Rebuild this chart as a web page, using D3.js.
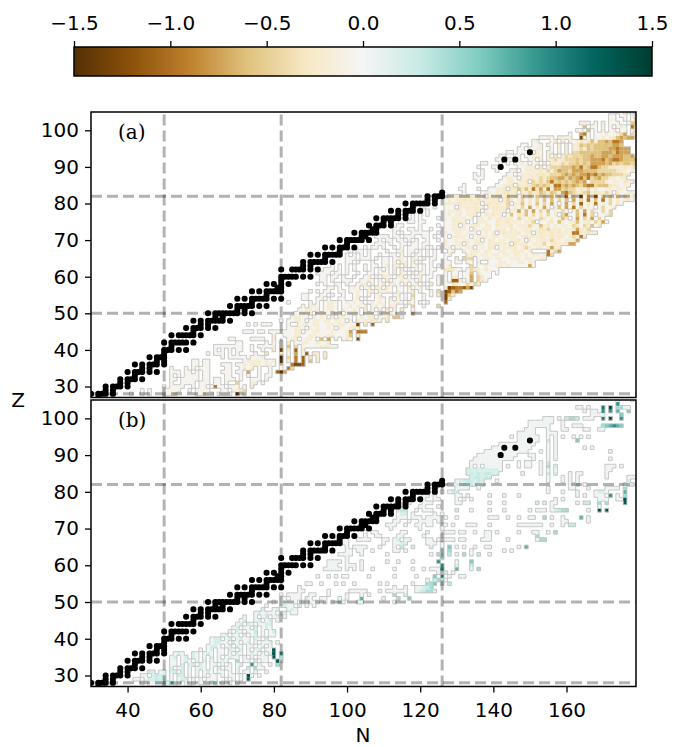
<!DOCTYPE html>
<html><head><meta charset="utf-8">
<script src="https://cdn.jsdelivr.net/npm/d3@7"></script>
<style>html,body{margin:0;padding:0;background:#fff}svg{display:block}text{font-family:"DejaVu Sans";fill:#000}</style>
</head><body><svg id="c" width="684" height="747"></svg>
<script>
// magnitude for each level character
const levelValues = [0.04, 0.2, 0.3, 0.44, 0.6, 0.75, 0.95, 1.1, 1.3, 1.45];
const magicN = [50, 82, 126];
const magicZ = [28, 50, 82];
const xTicks = [40, 60, 80, 100, 120, 140, 160];
const yTicks = [30, 40, 50, 60, 70, 80, 90, 100];
const barTicks = [-1.5, -1, -0.5, 0, 0.5, 1, 1.5];
// stable nuclei: [Z, N...]
const stable = [[27,32],[28,30,32,33,34,36],[29,34,36],[30,34,36,37,38,40],[31,38,40],[32,38,40,41,42,44],[33,42],[34,40,42,43,44,46,48],[35,44,46],[36,42,44,46,47,48,50],[37,48,50],[38,46,48,49,50],[39,50],[40,50,51,52,54,56],[41,52],[42,50,52,53,54,55,56,58],[44,52,54,55,56,57,58,60],[45,58],[46,56,58,59,60,62,64],[47,60,62],[48,58,60,62,63,64,65,66,68],[49,64,66],[50,62,64,65,66,67,68,69,70,72,74],[51,70,72],[52,68,70,71,72,73,74,76,78],[53,74],[54,70,72,74,75,76,77,78,80,82],[55,78],[56,74,76,78,79,80,81,82],[57,81,82],[58,78,80,82,84],[59,82],[60,82,83,84,85,86,88,90],[62,82,85,86,87,88,90,92],[63,88,90],[64,88,90,91,92,93,94,96],[65,94],[66,90,92,94,95,96,97,98],[67,98],[68,94,96,98,99,100,102],[69,100],[70,98,100,101,102,103,104,106],[71,104,105],[72,102,104,105,106,107,108],[73,107,108],[74,106,108,109,110,112],[75,110,112],[76,108,110,111,112,113,114,116],[77,114,116],[78,112,114,116,117,118,120],[79,118],[80,116,118,119,120,121,122,124],[81,122,124],[82,122,124,125,126],[83,126],[90,142],[92,143,146],[94,150]];

// Panel (a): [Z, N start, level string, N start, level string, ...]; "." = no cell. Values are negative.
const cellsA = [
[28,41,"0..0.0",50,"0003",59,"00300",65,"0000",70,"9",72,"0"],
[29,44,"0.0",50,"00000",57,"0.0000",66,"00.0",70,"123"],
[30,50,"0.0",53,"000",58,"0.00.0",64,"600.000.0",74,"1"],
[31,52,"0",55,"000",58,"0.000",64,"00",67,"0",70,"3",74,"11",77,"0"],
[32,52,"00.0",56,"00",58,"00.00",64,"00",67,"000.0",74,"000",78,"0"],
[33,52,"0",54,"0",56,"000",59,"0.00",67,"00",71,"0",73,"0",76,"0",78,"00"],
[34,52,"00",54,"0",56,"00",59,"0.00",66,"000",70,"00",73,"5",76,"0",79,"0",81,"785"],
[35,52,"0",56,"0",58,"0",60,"000",67,"00",71,"0101",76,"0",79,"0",82,"0.63"],
[36,58,"00",61,"00",66,"000.00",72,"101110110",82,"0",85,"6887"],
[37,58,"00.00",72,"011110101",82,"8",84,"1",86,"6.7.4.1"],
[38,66,"0",68,"00000",74,"00",76,"01",82,"9",84,"3",86,"6.7.2.1.2"],
[39,62,"0",64,"00",66,"0",68,"0",70,"0",75,"0",78,"2",82,"2",84,"0",86,"5.07.11.1"],
[40,64,"0",66,"0",68,"0",70,"00",74,"0",77,"0",80,"1",82,"8",84,"1",86,"7",88,"1"],
[41,64,"00000000",74,"0",76,"0000",80,"1",82,"1",84,"4",86,"3",88,"0000011100"],
[42,70,"00",78,"0",80,"0",82,"0",84,"2.0",87,"011001002"],
[43,68,"00",74,"0000",80,"1",84,"011",88,"0110",93,"4",95,"5",97,"1",99,"02",101,"0",103,"8"],
[44,80,"1",83,"00",85,"01100110001100",99,"01",101,"4",103,"2"],
[45,72,"000",76,"00",79,"000",82,"00",84,"0011.00110001000",100,"15",103,"666"],
[46,84,"00110.1010010.10",100,"012",103,"1"],
[47,73,"0",75,"0",77,"000",84,"0",87,"0110110011011000",103,"8",105,"2",107,"7"],
[48,82,"0",84,"00110.0110110110.1",103,"10",105,"112",108,"11",111,"2"],
[49,85,"01100.1010.1.1100.010",106,"11",109,"012",113,"44",115,"1"],
[50,86,"00101.0110.10.0110.0110.0110",118,"5"],
[51,87,"001101.0110.10010.1.0.1.1.1.1",118,"0"],
[52,88,"0.110.0110.0010101.0101.11",116,"1",118,"3",121,"0",125,"3"],
[53,84,"0",90,"0.0",94,"0110",99,"0101",103,"01",106,"01",108,"010",112,"0110.1",118,"0",120,"0",122,"0",127,"7"],
[54,88,"00",92,"00",95,"0",98,"00",102,"01",105,"0",108,"010",112,"1.0",116,"0",118,"1",121,"0",127,"82"],
[55,88,"00",93,"00",96,"0",99,"0",102,"010",106,"0",108,"01",113,"01",116,"0",118,"3",121,"0.0",125,"1",127,"842"],
[56,90,"0",92,"0",94,"00",98,"00",101,"0010",106,"11.1",110,"010",114,"10.0",118,"2",120,"0",123,"0",125,"3",127,"87465"],
[57,95,"00",98,"0",101,"010",105,"01.1",109,"1.10.0",115,"0.1",119,"01",122,"0",127,"28766758"],
[58,92,"0",94,"0",97,"00",100,"0",103,"011",107,"1.01.1",113,"10.1",118,"01",121,"0.1",125,"1",127,"0021003032"],
[59,93,"00",96,"0",99,"00",101,"0",104,"0010",109,"0.1.00",115,"1010",120,"1",122,"0",125,"0",127,"0.771.05.320"],
[60,93,"00",96,"00",99,"0",102,"0",105,"01.0",110,"110",114,"11.0",119,"01",122,"00",125,"1",127,"0.11.005.3200"],
[61,92,"0000",97,"00",100,"0",103,"0",106,"00",109,"010",113,"1.10",118,"1.1",121,"0",123,"0",127,"0.00.004.2000.0"],
[62,94,"000",98,"0.0",102,"0",105,"0",107,"0.0",111,"0.1.1.0",119,"0",121,"0",123,"00",127,"22200.031102000"],
[63,96,"0.0.0",102,"0",105,"0",107,"00",110,"01.11",116,"1.01",121,"0",123,"0",125,"0",127,"02.....3.0010011010000050"],
[64,100,"00",103,"0",107,"0",110,"00.0",115,"11.1.0",123,"0",127,"00.00.00.1..0001100011011"],
[65,100,"000",104,"000",108,"0",110,"00",113,"0110",118,"10.1",123,"00",127,"0..2.333.0011011001110110011"],
[66,100,"0",102,"0",104,"0",106,"0",109,"0",112,"00",115,"0.0.1",120,"0.0",124,"0",127,"01....1110110110110110101101",155,"63"],
[67,101,"0",103,"00",106,"0",111,"0",114,"01",117,"00",120,"0",122,"0",124,"0",127,".01..1011101100110111101",155,"6135"],
[68,105,"0.00",110,"0",113,"0.0",117,"000",121,"0.0",125,"0",127,"01.01011.01021.01112013101102512"],
[69,108,"000",112,"0",115,"00",118,"00",121,"00",127,"10011.101110112111.21120111301211155"],
[70,109,"0.0",112,"0",114,"00",117,"0",119,"0",122,"0",125,"0",127,"1001011011.02101101120.10112131101115"],
[71,108,"0000",113,"00",116,"000",121,"00",124,"0",127,"0.11110.0111011011110121112112121013162"],
[72,113,"0",115,"0",118,"0000",122,"0",125,"0",127,"100110101.0101.121112011.12112121116611211"],
[73,113,"00",117,"00",120,"0",123,"0",127,"0011110.10111011102101110121311201115213"],
[74,114,"00",120,"0",125,"0",127,"0011.10111011021112011131041201011032031402"],
[75,117,"00",120,"00",127,"001111.0.1110021121110113.0012041011401203150"],
[76,118,"0.0",125,"0",127,"10111101.1102012111031021032010142.050315030"],
[77,118,"0",120,"0",122,"0",127,"010110111.021211.04021403020301.350040603.0013"],
[78,120,"0.0",127,"0111101121.101111.1150405030401030.04050300303"],
[79,121,"0",124,"0",127,"000.1111211.12211301030502050.14050603010.03001"],
[80,124,"0",127,"1111211121.1212113.114020403050.05030702060103020"],
[81,127,"010112121211121.131013020304040304.50306040603010120"],
[82,128,"1122222121.1122131204030403050307030804070403050301"],
[83,132,"0",137,"0110112212.2132243243156432234122131.100110"],
[84,131,"00",136,"0",139,"00112.22424262526155343312130200110110"],
[85,132,"0",141,"00112.2122343432664545435663444211010"],
[86,136,"0",142,"00110112.3232463434345450333310110211"],
[87,135,"000",143,"0110.11121323445535456463453311011"],
[88,135,"0.0",144,"00.0111122223334545455656454433322"],
[89,137,"0",141,"0",145,"01.01111213135443555444433333211011"],
[90,136,"0",140,"00",147,"00111.2.133344454634664332211211"],
[91,137,"00",142,"0.0",146,"0010",151,"01.1.111323343435555453434434"],
[92,141,"00",144,"0000",150,"01.1.1131233343445556456654445"],
[93,142,"00",146,"00",149,"0011",153,"1.1.2.13233344544554555445"],
[94,144,"00",147,"0001",152,"10.1",156,"1.1.1.3344444455546555"],
[95,147,"00",150,"0011",156,"0.1.1.1131434444556555"],
[96,148,"00",151,"001",155,"10.1.1.11434344444554"],
[97,151,"01",156,"01.1.101212414454665"],
[98,153,"0010",158,"1101",164,"8.0.7",168,"00101245455"],
[99,161,"0",164,"560.0",169,"00100135.315"],
[100,163,"00.4",168,"0.1.01.00.1.0"],
[101,165,"4.00",170,"0.0",174,"010.0",178,"6"],
[102,164,"010.0.1.0",173,"00",177,"044"],
[103,172,"00",176,"0.04"],
[104,172,"00.00.0.3"],
[105,174,"00.0.1"]
];

// Panel (b): same layout; values are positive.
const cellsB = [
[27,46,"0011",51,"0.0",56,"00"],
[28,44,"0.00112",51,"15",54,"0.0.0",60,"000",64,"5",66,"0.0",70,"0"],
[29,42,"00",45,"011212",52,"0",54,"011",58,"0.0",62,"000",67,"0.0",71,"0",73,"8"],
[30,44,"00",47,"1212",52,"0.11",57,"0.0.0",63,"00.0",68,"00",71,"0.8",74,"0",76,"0"],
[31,46,"11",49,"01",52,"11",55,"1.0",59,"0.010",65,"00.0",70,"0.0",73,"0",75,"0",78,"0"],
[32,52,"1.01",57,"0.010",63,"0.1",67,"00",70,"0",73,"2.3",76,"00"],
[33,52,"00.1",57,"11.10",63,"00",66,"0.0",70,"01",74,"6",76,"0",79,"0",81,"3"],
[34,52,"00",55,"010",59,"0.1",63,"0.0",66,"10",70,"3",72,"00.1",77,"00",81,"80"],
[35,52,"01",55,"01.10",61,"0.1",65,"0.01",69,"00",72,"0",74,"0.00",78,"0",80,"8",82,"3"],
[36,53,"010",58,"10",61,"010.00",68,"0.10.01",75,"0.0.1",80,"8",82,"6"],
[37,60,"0.01",65,"00.1",69,"0.1",73,"0.01",78,"00",80,"8"],
[38,62,"0110.01",70,"10.0",74,"0",76,"01",79,"0"],
[39,63,"01100.10",72,"01",75,"0.0",78,"01.0"],
[40,63,"011.01",70,"01",72,"00.10",78,"1"],
[41,66,"01.0",70,"0.1",74,"01",77,"0.00"],
[42,68,"0.10.01",74,"02",77,"0",79,"01"],
[43,69,"01.00",73,"0.1",77,"010"],
[44,70,"01.10",76,"0011"],
[45,71,"01",75,"01.01",81,"0"],
[46,72,"0",75,"0",77,"02",80,"01",83,"0"],
[47,75,"01",77,"0100",82,"01",85,"00"],
[48,77,"1",80,"01",84,"01",86,"0"],
[49,78,"0",82,"01",84,"00",87,"1",89,"0.0"],
[50,80,"0",82,"00",84,"000",88,"0",90,"000",94,"0.0",98,"3",99,"0",103,"00",113,"0"],
[51,82,"00.00",87,"0.1",90,"0",93,"00",98,"0",100,"0",104,"5",110,"0",114,"3",117,"4"],
[52,82,"0",84,"00",86,"00",90,"00",95,"0",100,"0",104,"0",106,"0",113,"3",116,"1"],
[53,87,"00",95,"0",101,"00000",109,"0",111,"000000",119,"012331"],
[54,87,"0",113,"0",116,"0",119,"001",122,"23"],
[55,89,"00",93,"0",97,"0",99,"0",102,"0",109,"0",111,"0",118,"0",122,"334",126,"3",128,"2"],
[56,122,"0",124,"23",127,"0"],
[57,92,"0",95,"0",97,"0",99,"00",106,"0",113,"0",119,"0",124,"4",126,"7",128,"0",131,"00"],
[58,125,"0",127,"1",129,"0"],
[59,94,"00000",100,"0",102,"0",104,"0",107,"0",113,"0",118,"0",121,"0",123,"000",126,"6",130,"5",134,"0",136,"3"],
[60,95,"000",100,"000",104,"0",126,"5",130,"1",134,"2"],
[61,95,"0000",100,"0",104,"0",111,"0",114,"0",118,"0",125,"6",130,"0",134,"4"],
[62,100,"0",126,"2"],
[63,98,"00",100,"00",104,"0",111,"0",123,"0.3",126,"3",128,"2",130,"0",132,"3",134,"0",136,"2",139,"0"],
[64,100,"00",103,"00",107,"0",113,"00",116,"0",126,"2",128,"3",134,"0",143,"0",145,"0"],
[65,100,"0",102,"000",105,"0",109,"0",113,"0",115,"2",118,"1",123,"1",126,"0",128,"4",130,"0",132,"0",135,"0",138,"00",147,"0",149,"5"],
[66,97,"0",99,"00",110,"0",113,"001",116,"1",122,"000",126,"0"],
[67,97,"0",99,"00",103,"0000",110,"00",113,"01",116,"00",122,"00",125,"0",127,"000",131,"00",137,"000",144,"0",152,"033"],
[68,105,"0",108,"00",114,"00",121,"0",126,"0",138,"00",152,"3"],
[69,105,"0",107,"00",115,"00",122,"0",127,"000",131,"00",135,"0",138,"00",141,"0",147,"0",151,"00",155,"0",157,"3"],
[70,104,"0",106,"0",112,"0",120,"0",126,"0"],
[71,111,"000",116,"0",119,"00",122,"00",126,"00",129,"0",133,"000",139,"0",147,"000000",153,"0",156,"0",159,"0",161,"22"],
[72,113,"00",117,"0",120,"0000",125,"0",159,"00",166,"0"],
[73,114,"000",118,"000",122,"0000",127,"0",130,"0",139,"00",141,"0",144,"0",147,"0",150,"00",154,"3",156,"0",159,"0",164,"5",166,"0"],
[74,114,"011",118,"0",124,"0",126,"0"],
[75,114,"122",119,"0",121,"000",130,"1",134,"0",139,"0",143,"0",150,"0",152,"000",156,"01233",166,"0",169,"9",171,"8"],
[76,114,"122",120,"00",125,"0",156,"0",169,"0"],
[77,116,"00",121,"000",130,"00",139,"0",143,"0",152,"1",154,"1",156,"00",163,"0",165,"22",169,"3",171,"3",176,"8"],
[78,120,"00",124,"00",130,"0",132,"0",134,"0",157,"0",159,"0",169,"000",174,"00",176,"8"],
[79,121,"00",124,"0",130,"00",133,"0",139,"0",143,"0",147,"0",163,"0",165,"0",168,"000",172,"6",174,"0",176,"3"],
[80,126,"0",128,"022",155,"0",159,"0",163,"0",168,"0110",176,"5"],
[81,130,"0000",136,"0",155,"0",161,"00",166,"0",171,"0000",176,"3"],
[82,128,"0011212100",161,"00",163,"3",165,"0",176,"00",178,"2"],
[83,130,"01122121",141,"0",155,"0",159,"0",161,"0",163,"0",177,"1"],
[84,134,"122121",155,"0",159,"0",161,"0",163,"0",171,"0",177,"000"],
[85,133,"121212211",148,"0",153,"0",155,"2",157,"1",161,"0",163,"00",171,"0"],
[86,133,"1111111110",153,"0",155,"0",157,"0",171,"00"],
[87,134,"0.0.00000",144,"0",147,"0",149,"00",153,"0",155,"3",157,"1",171,"000",175,"0"],
[88,134,"000000000",147,"0",149,"00",153,"0",155,"2"],
[89,135,"00000000000",151,"0",155,"0",157,"0",172,"0"],
[90,136,"00000000000",150,"00",155,"0",157,"0"],
[91,138,"000000000000",153,"0",155,"0",157,"0",172,"0"],
[92,140,"00000000000",155,"0",157,"0",165,"0",167,"0"],
[93,142,"0000000000",155,"0",157,"0"],
[94,147,"000000",155,"2",157,"0",163,"4"],
[95,145,"0",147,"000000",155,"0",157,"0",159,"0",162,"0",164,"0",166,"0"],
[96,147,"00000",155,"00",157,"0"],
[97,149,"000",155,"0",159,"00",165,"00",169,"00"],
[98,150,"000000",159,"0",162,"000",170,"345654"],
[99,150,"0000000",159,"0"],
[100,154,"000",158,"0",160,"2332",165,"000",170,"7",172,"9",175,"6"],
[101,167,"0000",175,"4"],
[102,165,"0",167,"00",170,"6",172,"6",174,"5",177,"4"],
[103,163,"00",166,"0",170,"7",172,"9",174,"33",176,"00"],
[104,174,"6"],
[105,174,"0",178,"0"]
];

const cmapStops = d3.schemeBrBG[11];
const color = d3.scaleLinear()
  .domain(d3.range(11).map(i => -1.5 + i * 0.3))
  .range(cmapStops).interpolate(d3.interpolateRgb).clamp(true);

const svg = d3.select("#c");
const margin = {left: 91, right: 636};
const FS = "20px";

function expand(rows, sign) {
  const out = new Map();
  rows.forEach(r => {
    const Z = r[0];
    for (let i = 1; i < r.length; i += 2) {
      const start = r[i], s = r[i + 1];
      for (let k = 0; k < s.length; k++) {
        if (s[k] === ".") continue;
        const N = start + k;
        out.set(N + ":" + Z, {N, Z, v: sign * levelValues[+s[k]]});
      }
    }
  });
  return out;
}

function panel(rows, sign, top, bottom, label, showX, idx) {
  const x = d3.scaleLinear().domain([30, 179]).range([margin.left, margin.right]);
  const y = d3.scaleLinear().domain([27, 105]).range([bottom, top]);
  const clipId = "clip" + idx;
  svg.append("clipPath").attr("id", clipId).append("rect")
    .attr("x", margin.left).attr("y", top).attr("width", margin.right - margin.left).attr("height", bottom - top);
  const g = svg.append("g");
  const plot = g.append("g").attr("clip-path", `url(#${clipId})`);
  const cells = expand(rows, sign);
  const list = Array.from(cells.values());
  const cw = x(1) - x(0), ch = y(0) - y(1);
  plot.append("g").selectAll("rect").data(list).join("rect")
    .attr("x", d => x(d.N - 0.5)).attr("y", d => y(d.Z + 0.5))
    .attr("width", cw + 0.2).attr("height", ch + 0.2)
    .attr("fill", d => color(d.v));
  // mask outline: every edge between a cell and an empty neighbour
  const p = d3.path();
  list.forEach(d => {
    const x0 = x(d.N - 0.5), x1 = x(d.N + 0.5), y0 = y(d.Z + 0.5), y1 = y(d.Z - 0.5);
    if (!cells.has((d.N - 1) + ":" + d.Z)) { p.moveTo(x0, y0); p.lineTo(x0, y1); }
    if (!cells.has((d.N + 1) + ":" + d.Z)) { p.moveTo(x1, y0); p.lineTo(x1, y1); }
    if (!cells.has(d.N + ":" + (d.Z + 1))) { p.moveTo(x0, y0); p.lineTo(x1, y0); }
    if (!cells.has(d.N + ":" + (d.Z - 1))) { p.moveTo(x0, y1); p.lineTo(x1, y1); }
  });
  plot.append("path").attr("d", p.toString()).attr("fill", "none").attr("stroke", "#c2c2c2").attr("stroke-width", 0.9);
  // stable nuclei
  const st = [];
  stable.forEach(r => r.slice(1).forEach(N => st.push({Z: r[0], N})));
  plot.append("g").selectAll("rect").data(st).join("rect")
    .attr("x", d => x(d.N) - 3).attr("y", d => y(d.Z) - 3)
    .attr("width", 6).attr("height", 6).attr("rx", 2.7).attr("fill", "#000");
  // magic number guides
  const guide = sel => sel.attr("stroke", "#000").attr("stroke-opacity", 0.3).attr("stroke-width", 3).attr("stroke-dasharray", "11,5");
  plot.append("g").selectAll("line").data(magicN).join("line")
    .attr("x1", d => x(d)).attr("x2", d => x(d)).attr("y1", bottom).attr("y2", top).call(guide);
  plot.append("g").selectAll("line").data(magicZ).join("line")
    .attr("x1", margin.left).attr("x2", margin.right).attr("y1", d => y(d)).attr("y2", d => y(d)).call(guide);
  // axes
  const ya = g.append("g").attr("transform", `translate(${margin.left},0)`)
    .call(d3.axisLeft(y).tickValues(yTicks).tickSize(6).tickPadding(6));
  ya.select(".domain").remove();
  ya.selectAll("text").style("font-size", FS);
  ya.selectAll("line").attr("stroke-width", 1.3);
  if (showX) {
    const xa = g.append("g").attr("transform", `translate(0,${bottom})`)
      .call(d3.axisBottom(x).tickValues(xTicks).tickSize(6).tickPadding(10));
    xa.select(".domain").remove();
    xa.selectAll("text").style("font-size", FS);
    xa.selectAll("line").attr("stroke-width", 1.3);
  }
  g.append("rect").attr("x", margin.left).attr("y", top).attr("width", margin.right - margin.left).attr("height", bottom - top)
    .attr("fill", "none").attr("stroke", "#000").attr("stroke-width", 1.5);
  g.append("text").attr("x", 118).attr("y", top + 27).style("font-family", "'DejaVu Serif'").style("font-size", FS).text(label);
}

panel(cellsA, -1, 112, 397.5, "(a)", false, 0);
panel(cellsB, 1, 400, 686.5, "(b)", true, 1);

// colour bar
const bx = d3.scaleLinear().domain([-1.5, 1.5]).range([74, 652]);
const bar = svg.append("g");
const barPixels = d3.range(74, 652);
bar.selectAll("rect").data(barPixels).join("rect")
  .attr("x", d => d).attr("y", 47).attr("width", 1).attr("height", 29)
  .attr("shape-rendering", "crispEdges")
  .attr("fill", d => color(bx.invert(d + 0.5)));
const ba = bar.append("g").attr("transform", "translate(0,47)")
  .call(d3.axisTop(bx).tickValues(barTicks).tickFormat(d3.format(".1f")).tickSize(6).tickPadding(11));
ba.select(".domain").remove();
ba.selectAll("text").style("font-size", FS);
ba.selectAll("line").attr("stroke-width", 1.3);
bar.append("rect").attr("x", 74).attr("y", 47).attr("width", 578).attr("height", 29).attr("fill", "none").attr("stroke", "#000").attr("stroke-width", 1.5);

svg.append("text").attr("x", 363).attr("y", 742).attr("text-anchor", "middle").style("font-size", FS).text("N");
svg.append("text").attr("x", 18).attr("y", 407).attr("text-anchor", "middle").style("font-size", FS).text("Z");
</script></body></html>
